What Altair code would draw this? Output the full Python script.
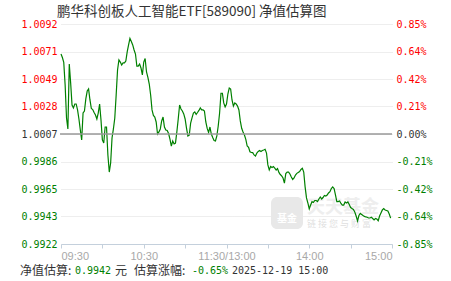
import altair as alt
import pandas as pd

# ---------------- data ----------------
title_text = "鹏华科创板人工智能ETF[589090] 净值估算图"
prev_close = 1.0007
y_min, y_max = 0.9922, 1.0092

left_ticks = [0.9922, 0.994325, 0.99645, 0.998575, 1.0007, 1.002825, 1.00495, 1.007075, 1.0092]
left_labels = ["0.9922", "0.9943", "0.9965", "0.9986", "1.0007", "1.0028", "1.0049", "1.0071", "1.0092"]
right_labels = ["-0.85%", "-0.64%", "-0.42%", "-0.21%", "0.00%", "0.21%", "0.42%", "0.64%", "0.85%"]

x_ticks = [0, 30, 60, 90, 120, 150, 180, 210, 240]
x_labels = ["09:30", "", "10:30", "", "11:30/13:00", "", "14:00", "", "15:00"]

minutes = list(range(240))
nav = [
    1.00688, 1.00661, 1.00623, 1.00449, 1.00194, 1.00109, 1.00611, 1.00464, 1.00294, 1.00271,
    1.00302, 1.00302, 1.00256, 1.00186, 1.00101, 1.00024, 1.00232, 1.00248, 1.00341, 1.00402,
    1.00418, 1.00333, 1.00267, 1.00259, 1.00236, 1.00217, 1.00186, 1.00232, 1.00302, 1.00178,
    1.00024, 1.00000, 1.00124, 1.00124, 0.99908, 0.99776, 0.99846, 1.00039, 1.00109, 1.00194,
    1.00371, 1.00565, 1.00642, 1.00626, 1.00603, 1.00619, 1.00619, 1.00634, 1.00704, 1.00758,
    1.00808, 1.00785, 1.00758, 1.00719, 1.00688, 1.00595, 1.00595, 1.00611, 1.00580, 1.00526,
    1.00626, 1.00653, 1.00549, 1.00507, 1.00456, 1.00371, 1.00256, 1.00213, 1.00201, 1.00163,
    1.00070, 1.00086, 1.00109, 1.00171, 1.00201, 1.00124, 1.00101, 1.00097, 1.00074, 1.00031,
    0.99977, 1.00016, 0.99993, 1.00000, 1.00086, 1.00186, 1.00294, 1.00263, 1.00248, 1.00225,
    1.00186, 1.00116, 1.00055, 1.00062, 1.00155, 1.00194, 1.00232, 1.00240, 1.00221, 1.00236,
    1.00252, 1.00271, 1.00256, 1.00256, 1.00248, 1.00163, 1.00113, 1.00082, 1.00124, 1.00070,
    1.00043, 1.00020, 1.00016, 1.00055, 1.00132, 1.00232, 1.00385, 1.00385, 1.00310, 1.00279,
    1.00302, 1.00379, 1.00426, 1.00418, 1.00333, 1.00286, 1.00310, 1.00302, 1.00286, 1.00256,
    1.00171, 1.00114, 1.00086, 1.00062, 1.00028, 0.99977, 0.99967, 0.99933, 0.99927, 0.99926,
    0.99908, 0.99900, 0.99923, 0.99935, 0.99943, 0.99935, 0.99943, 0.99946, 0.99952, 0.99923,
    0.99831, 0.99792, 0.99819, 0.99811, 0.99819, 0.99807, 0.99792, 0.99803, 0.99773, 0.99757,
    0.99746, 0.99730, 0.99691, 0.99765, 0.99776, 0.99776, 0.99761, 0.99738, 0.99718, 0.99730,
    0.99753, 0.99766, 0.99773, 0.99780, 0.99796, 0.99805, 0.99776, 0.99661, 0.99576, 0.99537,
    0.99491, 0.99521, 0.99547, 0.99541, 0.99556, 0.99556, 0.99548, 0.99568, 0.99583, 0.99568,
    0.99579, 0.99595, 0.99591, 0.99599, 0.99614, 0.99624, 0.99649, 0.99661, 0.99649, 0.99599,
    0.99548, 0.99548, 0.99552, 0.99533, 0.99521, 0.99521, 0.99545, 0.99537, 0.99545, 0.99525,
    0.99502, 0.99494, 0.99487, 0.99467, 0.99436, 0.99398, 0.99440, 0.99456, 0.99448, 0.99440,
    0.99433, 0.99429, 0.99427, 0.99421, 0.99421, 0.99427, 0.99417, 0.99406, 0.99417, 0.99413,
    0.99400, 0.99436, 0.99460, 0.99483, 0.99494, 0.99483, 0.99479, 0.99475, 0.99452, 0.99420,
]

footer_nav = "0.9942"
footer_change = "-0.65%"
footer_time = "2025-12-19 15:00"

# ---------------- styles ----------------
RED = "#ff0000"
GREEN = "#008000"
DARK = "#333333"
MONO = "DejaVu Sans Mono"
CJK = "Noto Sans CJK SC"
AXC = "#c4d0dc"

df = pd.DataFrame({"m": minutes, "nav": nav})
xs = alt.Scale(domain=[0, 240], nice=False, zero=False)
ys = alt.Scale(domain=[y_min, y_max], nice=False, zero=False)

step = (y_max - y_min) / 8
idx_expr = f"round((datum.value - {y_min}) / {step})"
left_expr = "[" + ",".join(f"'{s}'" for s in left_labels) + "][" + idx_expr + "]"
right_expr = "[" + ",".join(f"'{s}'" for s in right_labels) + "][" + idx_expr + "]"
x_expr = "{" + ",".join(f"'{t}':'{l}'" for t, l in zip(x_ticks, x_labels)) + "}[''+datum.value]"

label_color = {
    "condition": [
        {"test": f"datum.value > {prev_close + 0.0001}", "value": RED},
        {"test": f"datum.value < {prev_close - 0.0001}", "value": GREEN},
    ],
    "value": DARK,
}

x_axis = alt.Axis(values=x_ticks, labelExpr=x_expr, title=None, grid=False,
                  domainColor=AXC, tickColor=AXC, tickSize=4, labelColor="#a8a8a8",
                  labelFont="Liberation Sans", labelFontSize=11, labelFlush=True,
                  labelPadding=2)

left_axis = alt.Axis(orient="left", values=left_ticks, labelExpr=left_expr, labelColor=label_color,
                     labelFont=MONO, labelFontSize=10, title=None, domain=False, ticks=False,
                     grid=True, gridColor="#dddddd", gridDash=[1, 1], labelPadding=4)

right_axis = alt.Axis(orient="right", values=left_ticks, labelExpr=right_expr, labelColor=label_color,
                      labelFont=MONO, labelFontSize=10, title=None, domain=False, ticks=False,
                      grid=False, labelPadding=4)


def text_mark(text, px, py, color, font, size, weight="normal", align="left"):
    return alt.Chart(pd.DataFrame({"t": [text]})).mark_text(
        font=font, fontSize=size, fontWeight=weight, color=color, align=align, baseline="middle").encode(
        text="t:N", x=alt.value(px), y=alt.value(py))


# watermark
wm_rect = alt.Chart(pd.DataFrame({"a": [0]})).mark_rect(color="#e8e8e8", cornerRadius=6).encode(
    x=alt.value(210), x2=alt.value(242), y=alt.value(173), y2=alt.value(205))
wm_logo = text_mark("基金", 226, 195, "#ffffff", CJK, 10, "bold", "center")
wm_big = text_mark("天天基金", 246, 184, "#eeeeee", CJK, 18, "bold")
wm_small = text_mark("链 接 您 与 财 富", 246, 200, "#dfdfdf", CJK, 9)

base_rule = alt.Chart(pd.DataFrame({"v": [prev_close]})).mark_rule(color="#999999", strokeWidth=1.5).encode(
    y=alt.Y("v:Q", scale=ys, axis=None), x=alt.value(-1), x2=alt.value(331))

line = alt.Chart(df).mark_line(color=GREEN, strokeWidth=1.2).encode(
    x=alt.X("m:Q", scale=xs, axis=x_axis),
    y=alt.Y("nav:Q", scale=ys, axis=left_axis))

right = alt.Chart(df).mark_line(opacity=0).encode(
    x=alt.X("m:Q", scale=xs, axis=x_axis),
    y=alt.Y("nav:Q", scale=ys, axis=right_axis))

title = text_mark(title_text, -4, -12.5, DARK, CJK, 13.5)

foot = [
    text_mark("净值估算:", -41, 247, DARK, CJK, 12),
    text_mark(footer_nav, 14, 247, GREEN, MONO, 10),
    text_mark("元", 54, 247, DARK, CJK, 12),
    text_mark("估算涨幅:", 73, 247, DARK, CJK, 12),
    text_mark(footer_change, 131, 247, GREEN, MONO, 10),
    text_mark(footer_time, 171, 247, DARK, MONO, 10),
]

chart = alt.layer(
    wm_rect, wm_logo, wm_big, wm_small, line, base_rule, right, title, *foot
).resolve_scale(y="shared").resolve_axis(y="independent").properties(
    width=331, height=220,
    autosize=alt.AutoSizeParams(type="none"),
    padding={"left": 61, "top": 24, "right": 59, "bottom": 37},
).configure_view(stroke=None)

chart.save("out.html", embed_options={"renderer": "svg", "actions": False})
